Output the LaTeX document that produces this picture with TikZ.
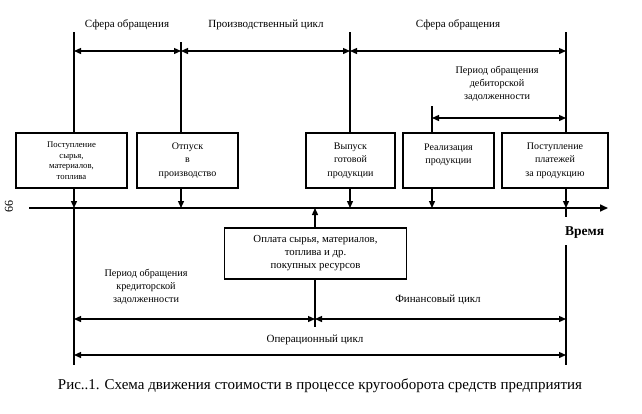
\documentclass[tikz,border=0pt]{standalone}
\usepackage{fontspec}
\setmainfont{Liberation Serif}
\usetikzlibrary{arrows.meta}
\begin{document}
\begin{tikzpicture}[x=1pt,y=-1pt,
  ln/.style={line width=1.3pt},
  dbl/.style={line width=1.3pt,{Triangle[length=7pt,width=6pt]}-{Triangle[length=7pt,width=6pt]}},
  arr/.style={line width=1.3pt,-{Triangle[length=7pt,width=6pt]}},
  box/.style={draw,line width=1.3pt,minimum height=55pt,inner sep=1pt,align=center,font=\fontsize{10}{13.5}\selectfont},
  lbl/.style={font=\fontsize{11}{13}\selectfont,align=center,inner sep=0pt}
]
\useasboundingbox (0,0) rectangle (642,413);
% boxes
\node[box,minimum width=111pt,font=\fontsize{8.7}{10.5}\selectfont] (b1) at (71.5,160.5) {Поступление\\сырья,\\материалов,\\топлива};
\node[box,minimum width=101pt] (b2) at (187.5,160.5) {Отпуск\\в\\производство};
\node[box,minimum width=89pt] (b3) at (350.5,160.5) {Выпуск\\готовой\\продукции};
\node[box,minimum width=91pt] (b4) at (448.5,160.5) {Реализация\\продукции\\\mbox{}};
\node[box,minimum width=106pt] (b5) at (555,160.5) {Поступление\\платежей\\за продукцию};
\node[box,minimum width=182pt,minimum height=51pt,font=\fontsize{10.8}{13}\selectfont] (b6) at (315.5,253.5) {Оплата сырья, материалов,\\топлива и др.\\покупных ресурсов};
% coordinates
\coordinate (tlS) at (29,208);
\coordinate (tlE) at (608,208);
\coordinate (xa) at (74,32);
\coordinate (xb) at (181,42);
\coordinate (xc) at (350,32);
\coordinate (xd) at (432,106);
\coordinate (xe) at (566,32);
\coordinate (xo) at (315,327);
\coordinate (r1) at (0,51);
\coordinate (r2) at (0,118);
\coordinate (r3) at (0,319);
\coordinate (r4) at (0,355);
\coordinate (bot) at (0,365);
\coordinate (st) at (0,217);
\coordinate (sb) at (0,245);
% timeline
\draw[line width=1.6pt,-{Triangle[length=8pt,width=7pt]}] (tlS) -- (tlE);
% verticals
\draw[ln] (xa) -- (xa |- b1.north);
\draw[arr] (xa |- b1.south) -- (xa |- tlS);
\draw[ln] (xa |- tlS) -- (xa |- bot);
\draw[ln] (xb) -- (xb |- b2.north);
\draw[arr] (xb |- b2.south) -- (xb |- tlS);
\draw[ln] (xc) -- (xc |- b3.north);
\draw[arr] (xc |- b3.south) -- (xc |- tlS);
\draw[ln] (xd) -- (xd |- b4.north);
\draw[arr] (xd |- b4.south) -- (xd |- tlS);
\draw[ln] (xe) -- (xe |- b5.north);
\draw[arr] (xe |- b5.south) -- (xe |- tlS);
\draw[ln] (xe |- tlS) -- (xe |- st);
\draw[ln] (xe |- sb) -- (xe |- bot);
\draw[arr] (xo |- b6.north) -- (xo |- tlS);
\draw[ln] (xo |- b6.south) -- (xo);
% double arrows
\draw[dbl] (xa |- r1) -- (xb |- r1);
\draw[dbl] (xb |- r1) -- (xc |- r1);
\draw[dbl] (xc |- r1) -- (xe |- r1);
\draw[dbl] (xd |- r2) -- (xe |- r2);
\draw[dbl] (xa |- r3) -- (xo |- r3);
\draw[dbl] (xo |- r3) -- (xe |- r3);
\draw[dbl] (xa |- r4) -- (xe |- r4);
% labels
\node[lbl] (l1) at (127,25) {Сфера обращения};
\node[lbl] (l2) at (266,25) {Производственный цикл};
\node[lbl] (l3) at (458,25) {Сфера обращения};
\node[lbl,font=\fontsize{10.2}{13}\selectfont] (l4) at (497,84) {Период обращения\\дебиторской\\задолженности};
\node[lbl,font=\fontsize{10.2}{13}\selectfont] (l5) at (146,287) {Период обращения\\кредиторской\\задолженности};
\node[lbl] (l6) at (438,300) {Финансовый цикл};
\node[lbl] (l7) at (315,340) {Операционный цикл};
\node[lbl,font=\bfseries\fontsize{13.5}{15}\selectfont,anchor=west] (l8) at (565,233) {Время};
\node[lbl,font=\fontsize{12}{14}\selectfont,rotate=90] (l9) at (9,206) {66};
\node[lbl,font=\fontsize{15}{17}\selectfont] (cap) at (320,386) {Рис..1. Схема движения стоимости в процессе кругооборота средств предприятия};
\end{tikzpicture}
\end{document}
